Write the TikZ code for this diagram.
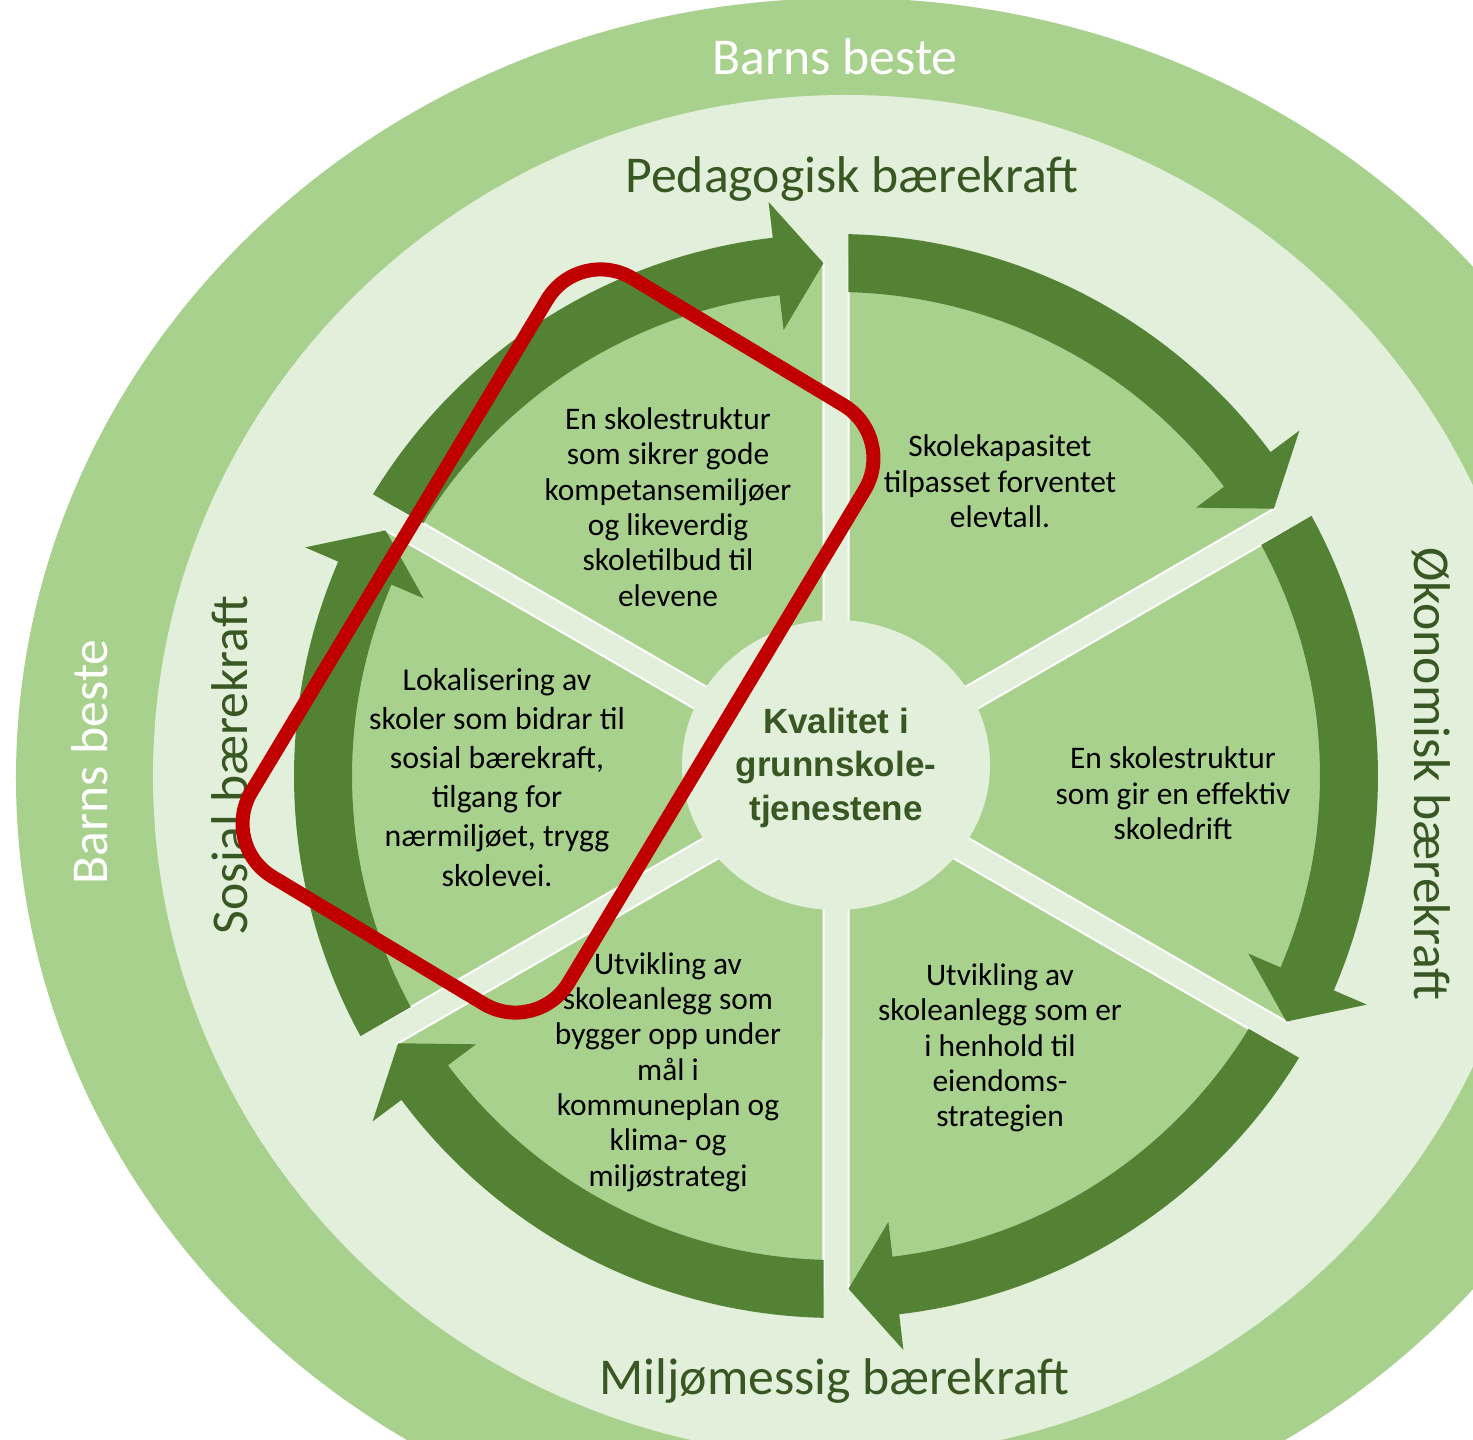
\documentclass[tikz,border=0pt]{standalone}
\usepackage{fontspec}
\setmainfont{Carlito}
\newfontfamily\ctrfont{Liberation Sans}
\definecolor{midg}{HTML}{A9D18E}
\definecolor{lightg}{HTML}{E2EFDA}
\definecolor{darkg}{HTML}{548235}
\definecolor{textg}{HTML}{385723}
\definecolor{redr}{HTML}{C00000}
\tikzset{
  ringtitle/.style={text=textg, font=\fontsize{14.7}{17}\selectfont, inner sep=0},
  outertitle/.style={text=white, font=\fontsize{14.7}{17}\selectfont, inner sep=0},
  sectortext/.style={align=center, text=black, inner sep=0, font=\fontsize{8.93}{10.04}\selectfont},
  sectortextwide/.style={align=center, text=black, inner sep=0, font=\fontsize{9.05}{11.1}\selectfont},
  centertext/.style={align=center, text=textg, inner sep=0, font=\ctrfont\bfseries\fontsize{9.96}{12.38}\selectfont},
  arrowband/.style={fill=darkg},
  sectorfill/.style={fill=midg},
  sectoredge/.style={draw=white, line width=0.02cm},
  focusframe/.style={draw=redr, line width=0.14cm, rounded corners=0.62cm, inner sep=0, outer sep=0}
}
\begin{document}
\begin{tikzpicture}[x=0.01cm,y=0.01cm]
\clip (-836,-664) rectangle (637,776);
\fill[white] (-836,-664) rectangle (637,776);
% outer rings
\fill[midg] (10,-2) ellipse [x radius=830, y radius=780];
\fill[lightg] (10,0) ellipse [x radius=693, y radius=681];
% pie sectors
\foreach \E in {30,-30,-90,-150,-210,90} {
  \fill[sectorfill] ({\E+30}:25) -- ({\E+1.39}:516) arc[start angle={\E+1.39}, end angle={\E+58.61}, radius=516] -- cycle;
  \draw[sectoredge] ({\E+1.39}:516) -- ({\E+30}:25) -- ({\E+58.61}:516);
}
% circular arrows
\foreach \D in {90,30,-30,-90,-150,-210} {
  \pgfmathsetmacro\T{\D-60+1.4}
  \pgfmathsetmacro\B{\T+5.3}
  \fill[arrowband] ({\D-1.32}:542) arc[start angle={\D-1.32}, end angle=\B, radius=542]
    -- (\B:578) -- (\T:513) -- (\B:449) -- (\B:484)
    arc[start angle=\B, end angle={\D-1.48}, radius=484] -- cycle;
}
% center disc
\fill[lightg] (0,11) ellipse [x radius=154, y radius=145];
% titles
\node[outertitle] (bbtop) at (-1,719) {Barns beste};
\node[outertitle, rotate=90] (bbleft) at (-746,14) {Barns beste};
\node[ringtitle] (ped) at (16,597) {Pedagogisk bærekraft};
\node[ringtitle, rotate=-90] (oko) at (595,2) {Økonomisk bærekraft};
\node[ringtitle] (mil) at (-1.5,-605) {Miljømessig bærekraft};
\node[ringtitle, rotate=90] (sos) at (-606,11) {Sosial bærekraft};
% sector texts
\node[sectortext] (tl) at (-168,269) {En skolestruktur\\som sikrer gode\\kompetansemiljøer\\og likeverdig\\skoletilbud til\\elevene};
\node[sectortext] (tr) at (164,294.5) {Skolekapasitet\\tilpasset forventet\\elevtall.};
\node[sectortext] (rr) at (337,-17.5) {En skolestruktur\\som gir en effektiv\\skoledrift};
\node[sectortext] (br) at (164,-272) {Utvikling av\\skoleanlegg som er\\i henhold til\\eiendoms-\\strategien};
\node[sectortext] (bl) at (-168,-296) {Utvikling av\\skoleanlegg som\\bygger opp under\\mål i\\kommuneplan og\\klima- og\\miljøstrategi};
\node[sectortextwide] (ll) at (-339,-1.5) {Lokalisering av\\skoler som bidrar til\\sosial bærekraft,\\tilgang for\\nærmiljøet, trygg\\skolevei.};
% center text
\node[centertext] (ctr) at (0,8.5) {Kvalitet i\\grunnskole-\\tjenestene};
% red highlight frame
\node[focusframe, minimum width=6.98cm, minimum height=3.70cm, rotate=59] (focus) at (-278,135) {};
\end{tikzpicture}
\end{document}
